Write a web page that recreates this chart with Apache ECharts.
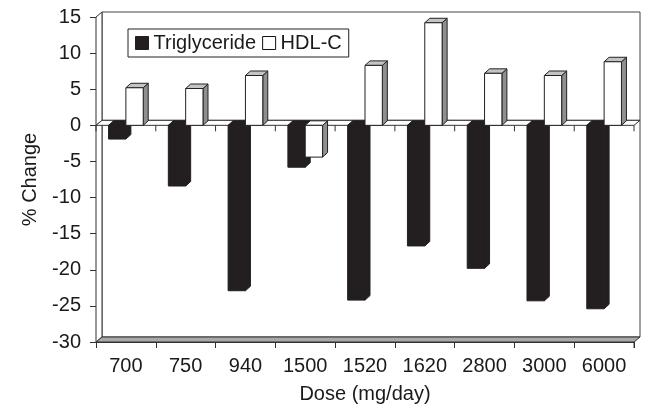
<!DOCTYPE html>
<html>
<head>
<meta charset="utf-8">
<script src="https://cdn.jsdelivr.net/npm/echarts@6/dist/echarts.min.js"></script>
<style>
html,body{margin:0;padding:0;background:#fff;}
#c{width:649px;height:410px;}
</style>
</head>
<body>
<div id="c"></div>
<script>
var doses = ['700','750','940','1500','1520','1620','2800','3000','6000'];
var triglyceride = [-1.9, -8.4, -22.9, -5.8, -24.2, -16.7, -19.8, -24.3, -25.4];
var hdlC = [5.2, 5.1, 6.9, -4.4, 8.3, 14.2, 7.2, 6.9, 8.8];
var yTicks = {min: -30, max: 15, interval: 5};

var DX = 6, DY = -5;       // depth of walls
var BDX = 5, BDY = -4.5;   // depth of bars
var FONT = 'Liberation Sans, Arial, sans-serif';
var FS = 20;
var BLACK = '#231f20';

function frameItem(params, api) {
  var band = api.size([1, 0])[0];
  var n = doses.length;
  var left = api.coord([0, 0])[0] - band / 2;
  var right = api.coord([n - 1, 0])[0] + band / 2;
  var top = api.coord([0, yTicks.max])[1];
  var bottom = api.coord([0, yTicks.min])[1];
  var y0 = api.coord([0, 0])[1];
  var lineStyle = {stroke: '#333', lineWidth: 1, fill: null};
  var ch = [];
  ch.push({type: 'rect', shape: {x: left + DX, y: top + DY, width: right - left, height: bottom - top},
    style: {fill: '#fff', stroke: '#444', lineWidth: 1}});
  ch.push({type: 'polygon', shape: {points: [[left, top], [left + DX, top + DY], [left + DX, bottom + DY], [left, bottom]]},
    style: {fill: '#fff', stroke: '#333', lineWidth: 1}});
  ch.push({type: 'polygon', shape: {points: [[left, bottom], [left + DX, bottom + DY], [right + DX, bottom + DY], [right, bottom]]},
    style: {fill: '#a9a9a9', stroke: '#333', lineWidth: 1}});
  ch.push({type: 'line', shape: {x1: right, y1: bottom, x2: right, y2: bottom + 6}, style: lineStyle});
  ch.push({type: 'line', shape: {x1: left, y1: y0, x2: left + DX, y2: y0 + DY}, style: lineStyle});
  ch.push({type: 'line', shape: {x1: left + DX, y1: y0 + DY, x2: right + DX, y2: y0 + DY}, style: lineStyle});
  ch.push({type: 'polygon', shape: {points: [[left, y0], [left + DX, y0 + DY], [right + DX, y0 + DY], [right, y0]]},
    style: {fill: '#fff', stroke: '#333', lineWidth: 1}});
  for (var i = 0; i <= n; i++) {
    var x = left + i * band;
    ch.push({type: 'line', shape: {x1: x, y1: y0, x2: x, y2: y0 + 6}, style: lineStyle});
  }
  return {type: 'group', children: ch};
}

function barRenderer(side, front, sideCol, topPos, topNeg, stroke) {
  return function (params, api) {
    var i = api.value(0), v = api.value(1);
    var band = api.size([1, 0])[0];
    var c = api.coord([i, v]);
    var z = api.coord([i, 0]);
    var w = band * 0.29;
    var x0 = side < 0 ? c[0] - w : c[0];
    var x1 = x0 + w;
    var yt = Math.min(c[1], z[1]), yb = Math.max(c[1], z[1]);
    var st = {stroke: stroke, lineWidth: 1};
    return {type: 'group', children: [
      {type: 'polygon', shape: {points: [[x1, yt], [x1 + BDX, yt + BDY], [x1 + BDX, yb + BDY], [x1, yb]]},
        style: Object.assign({fill: sideCol}, st)},
      {type: 'polygon', shape: {points: [[x0, yt], [x0 + BDX, yt + BDY], [x1 + BDX, yt + BDY], [x1, yt]]},
        style: Object.assign({fill: v >= 0 ? topPos : topNeg}, st)},
      {type: 'rect', shape: {x: x0, y: yt, width: w, height: yb - yt},
        style: Object.assign({fill: front}, st)}
    ]};
  };
}

var chart = echarts.init(document.getElementById('c'));
chart.setOption({
  animation: false,
  backgroundColor: '#fff',
  textStyle: {fontFamily: FONT},
  grid: {left: 96, right: 15, top: 17, bottom: 68},
  legend: {
    left: 128, top: 29,
    padding: [4, 7],
    itemWidth: 13, itemHeight: 13, itemGap: 6,
    borderColor: '#222', borderWidth: 1, backgroundColor: '#fff',
    textStyle: {fontSize: FS, color: '#1a1a1a', fontFamily: FONT},
    data: [
      {name: 'Triglyceride', icon: 'rect', itemStyle: {color: BLACK, borderColor: BLACK, borderWidth: 1}},
      {name: 'HDL-C', icon: 'rect', itemStyle: {color: '#fff', borderColor: '#111', borderWidth: 1}}
    ]
  },
  xAxis: {
    type: 'category',
    data: doses,
    boundaryGap: true,
    name: 'Dose (mg/day)',
    nameLocation: 'middle',
    nameGap: 42,
    nameTextStyle: {fontSize: FS, color: '#1a1a1a', fontFamily: FONT},
    axisLine: {onZero: false, lineStyle: {color: '#333', width: 1}},
    axisTick: {show: true, length: 6, alignWithLabel: false, lineStyle: {color: '#333'}},
    axisLabel: {fontSize: FS, color: '#1a1a1a', margin: 14, fontFamily: FONT},
    splitLine: {show: false}
  },
  yAxis: {
    type: 'value',
    min: yTicks.min, max: yTicks.max, interval: yTicks.interval,
    name: '% Change',
    nameLocation: 'middle',
    nameGap: 56,
    nameRotate: 90,
    nameTextStyle: {fontSize: FS, color: '#1a1a1a', fontFamily: FONT},
    axisLine: {show: true, lineStyle: {color: '#333', width: 1}},
    axisTick: {show: true, length: 6, lineStyle: {color: '#333'}},
    axisLabel: {fontSize: FS, color: '#1a1a1a', margin: 15, fontFamily: FONT},
    splitLine: {show: false}
  },
  series: [
    {
      type: 'custom', name: 'frame', z: 1, silent: true,
      renderItem: frameItem,
      data: [[0, 0]]
    },
    {
      type: 'custom', name: 'Triglyceride', z: 3,
      itemStyle: {color: BLACK},
      renderItem: barRenderer(-1, BLACK, BLACK, BLACK, BLACK, BLACK),
      data: triglyceride.map(function (v, i) { return [i, v]; })
    },
    {
      type: 'custom', name: 'HDL-C', z: 4,
      itemStyle: {color: '#fff', borderColor: '#111', borderWidth: 1},
      renderItem: barRenderer(1, '#fff', '#8f8f8f', '#c4c4c4', '#fff', '#222'),
      data: hdlC.map(function (v, i) { return [i, v]; })
    }
  ]
});
</script>
</body>
</html>
